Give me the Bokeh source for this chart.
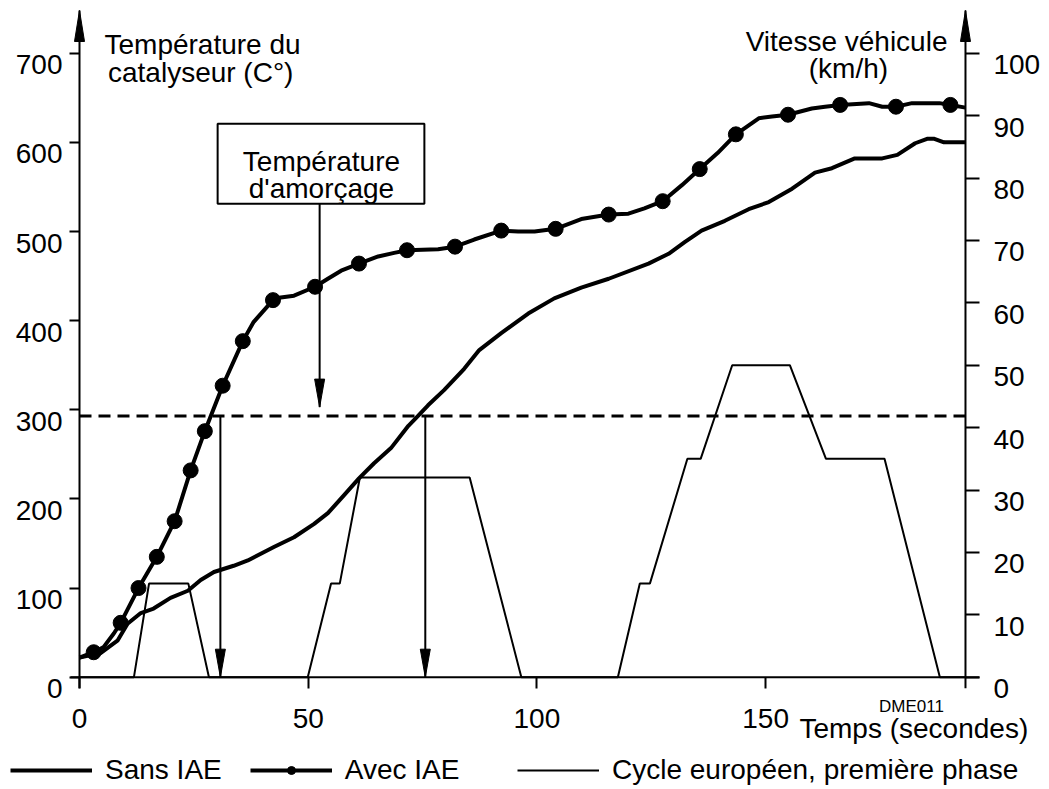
from bokeh.plotting import figure
from bokeh.models import (Range1d, LinearAxis, FixedTicker, Label, LabelSet,
                          BoxAnnotation, Legend, LegendItem, ColumnDataSource, Grid,
                          CustomJSTickFormatter)
from bokeh.core.properties import value
from bokeh.embed import file_html
from bokeh.resources import INLINE

FONT = "Liberation Sans"

# ---------------- data ----------------
time_sans = [0, 4.6, 8.3, 10.5, 13.4, 16.2, 19.9, 23.7, 26.5, 29.4, 33.7, 36.8, 42.5,
             46.9, 51.3, 54.3, 57.8, 61.1, 64.4, 68.1, 71.9, 73.6, 76.2, 79.7, 84.1,
             87.4, 92.2, 98.1, 103.8, 109.7, 115.7, 124.4, 128.8, 132.3, 136.0, 141.1,
             146.3, 150.7, 155.8, 160.8, 164.5, 169.5, 175.5, 178.8, 182.7, 185.3,
             186.9, 189.0, 193.7]
temp_sans = [22, 27, 41, 60, 72, 77, 89, 97, 109, 118, 125, 131, 146,
             157, 172, 184, 204, 223, 240, 257, 282, 291, 305, 322, 346,
             367, 386, 408, 425, 437, 447, 464, 475, 488, 501, 512,
             525, 533, 548, 566, 571, 582, 582, 586, 599, 604,
             604, 600, 600]

time_avec = [0, 3.1, 5.3, 7.5, 9.0, 12.9, 16.9, 20.8, 24.3, 27.4, 31.3, 35.7, 38.0,
             42.3, 44.0, 46.9, 51.5, 54.3, 57.2, 61.1, 65.3, 68.8, 71.6, 78.4, 82.1,
             86.3, 92.2, 95.9, 99.5, 104.1, 109.7, 115.7, 120.0, 123.5, 127.5, 131.7,
             135.6, 139.5, 143.5, 148.5, 151.4, 154.9, 160.1, 163.0, 166.3, 172.6,
             175.5, 178.5, 182.0, 188.0, 190.4, 193.7]
temp_avec = [22, 28, 34, 49, 61, 100, 135, 175, 232, 276, 327, 377, 398,
             423, 426, 428, 438, 447, 456, 464, 472, 476, 479, 480, 483,
             491, 501, 500, 500, 503, 514, 519, 520, 526, 534, 552,
             570, 588, 609, 627, 629, 631, 638, 640, 642, 644,
             640, 640, 644, 644, 642, 639]

time_markers = [3.1, 9.0, 12.9, 16.9, 20.8, 24.3, 27.4, 31.3, 35.7, 42.3, 51.5, 61.1,
                71.6, 82.1, 92.2, 104.1, 115.7, 127.5, 135.6, 143.5, 154.9, 166.3,
                178.5, 190.4]
temp_markers = [28, 61, 100, 135, 175, 232, 276, 327, 377, 423, 438, 464,
                479, 483, 501, 503, 519, 534, 570, 609, 631, 642,
                640, 642]

time_cycle = [0, 11.9, 15.2, 23.8, 28.3, 49.9, 55.0, 56.9, 61.3, 85.3, 96.6, 117.7,
              122.5, 124.7, 132.9, 135.8, 142.7, 155.3, 163.2, 176.0, 188.1, 193.7]
speed_cycle = [0, 0, 15, 15, 0, 0, 15, 15, 32, 32, 0, 0,
               15, 15, 35, 35, 50, 50, 35, 35, 0, 0]

temp_ticks = [0, 100, 200, 300, 400, 500, 600, 700]
speed_ticks = [0, 10, 20, 30, 40, 50, 60, 70, 80, 90, 100]
time_ticks = [0, 50, 100, 150]

threshold_temp = 293          # température d'amorçage
arrow_times = [30.8, 75.6]    # instants d'amorçage
box_arrow_time = 52.5
T_END = 193.7                 # position of the right axis

# ---------------- layout constants ----------------
W, H = 1049, 789
PX_PER_S = 4.574              # px per second
PX_PER_DEG = 0.8914           # px per degree
DEG_PER_KMH = 7.0
ORIGIN_X = 79                 # canvas px of t = 0
ORIGIN_Y = 676.7              # canvas px of T = 0 (from top)
X_START, X_END = -ORIGIN_X / PX_PER_S, (W - ORIGIN_X) / PX_PER_S
Y_START, Y_END = (ORIGIN_Y - H) / PX_PER_DEG, ORIGIN_Y / PX_PER_DEG
AX_TOP = (ORIGIN_Y - 10) / PX_PER_DEG      # tip of the axis arrows
AX_BOTTOM = -11 / PX_PER_DEG               # axes overshoot below 0
AX_LEFT, AX_RIGHT = -9 / PX_PER_S, T_END + 14 / PX_PER_S
FS = "28px"

p = figure(width=W, height=H, output_backend="svg", toolbar_location=None,
           x_range=Range1d(X_START, X_END), y_range=Range1d(Y_START, Y_END),
           x_axis_location=None, y_axis_location=None,
           min_border=0, min_border_left=0, min_border_right=0,
           min_border_top=0, min_border_bottom=0)
p.outline_line_color = None
p.background_fill_color = "white"
p.border_fill_color = "white"
p.center = [r for r in p.center if not isinstance(r, Grid)]
p.extra_y_ranges = {"speed": Range1d(Y_START / DEG_PER_KMH, Y_END / DEG_PER_KMH)}


def style_axis(ax, ticks, tick_out):
    ax.ticker = FixedTicker(ticks=ticks)
    ax.formatter = CustomJSTickFormatter(code="return ''")
    ax.axis_line_color = None
    ax.major_tick_line_width = 2
    ax.major_tick_line_color = "black"
    ax.major_tick_in = 0
    ax.major_tick_out = tick_out
    ax.minor_tick_in = 0
    ax.minor_tick_out = 0


ax_b = LinearAxis(fixed_location=0)
style_axis(ax_b, time_ticks, 11)
p.add_layout(ax_b, "below")

ax_l = LinearAxis(fixed_location=0)
style_axis(ax_l, temp_ticks, 10)
p.add_layout(ax_l, "left")

ax_r = LinearAxis(fixed_location=T_END, y_range_name="speed")
style_axis(ax_r, speed_ticks, 14)
p.add_layout(ax_r, "right")

# axis lines (overshooting like the original drawing)
p.segment(x0=[AX_LEFT, 0, T_END], y0=[0, AX_BOTTOM, AX_BOTTOM],
          x1=[AX_RIGHT, 0, T_END], y1=[0, AX_TOP, AX_TOP],
          line_width=2, line_color="black")

# tick labels (baseline hangs 21 px below the tick, as in the drawing)
BASE_DROP = 21
label_style = dict(text_baseline="alphabetic", text_font=value(FONT),
                   text_font_size=value(FS), text_color="black")
left_src = ColumnDataSource(dict(x=[-17 / PX_PER_S] * len(temp_ticks),
                                 y=[v - BASE_DROP / PX_PER_DEG for v in temp_ticks],
                                 text=[str(v) for v in temp_ticks]))
p.add_layout(LabelSet(x="x", y="y", text="text", source=left_src, text_align="right",
                      **label_style))
right_src = ColumnDataSource(dict(x=[T_END + 28 / PX_PER_S] * len(speed_ticks),
                                  y=[v - BASE_DROP / (PX_PER_DEG * DEG_PER_KMH)
                                     for v in speed_ticks],
                                  text=[str(v) for v in speed_ticks]))
p.add_layout(LabelSet(x="x", y="y", text="text", source=right_src, y_range_name="speed",
                      text_align="left", **label_style))
bottom_src = ColumnDataSource(dict(x=time_ticks,
                                   y=[-50.3 / PX_PER_DEG] * len(time_ticks),
                                   text=[str(v) for v in time_ticks]))
p.add_layout(LabelSet(x="x", y="y", text="text", source=bottom_src, text_align="center",
                      **label_style))

# ---------------- series ----------------
cycle = p.line(time_cycle, speed_cycle, y_range_name="speed", line_width=2,
               line_color="black")
sans = p.line(time_sans, temp_sans, line_width=4, line_color="black",
              line_join="round")
avec_line = p.line(time_avec, temp_avec, line_width=4, line_color="black",
                   line_join="round")
avec_pts = p.scatter(time_markers, temp_markers, marker="circle", size=15,
                     fill_color="black", line_color="black")

# threshold line
p.segment(x0=[0], y0=[threshold_temp], x1=[T_END], y1=[threshold_temp],
          line_width=3, line_color="black", line_dash="12 7")

# vertical arrows
p.segment(x0=arrow_times, y0=[threshold_temp] * len(arrow_times),
          x1=arrow_times, y1=[0] * len(arrow_times), line_width=2, line_color="black")

BOX_LEFT, BOX_RIGHT, BOX_TOP, BOX_BOTTOM = 30.2, 75.4, 621, 531
BOX_ARROW_TIP = 303
p.segment(x0=[box_arrow_time], y0=[BOX_BOTTOM], x1=[box_arrow_time],
          y1=[BOX_ARROW_TIP], line_width=2, line_color="black")


def head(x, tip, up, length_px=28, width_px=10):
    hw = width_px / 2 / PX_PER_S
    hl = length_px / PX_PER_DEG
    base = tip - hl if up else tip + hl
    return [x - hw, x, x + hw], [base, tip, base]


heads = [head(0, AX_TOP, True, 31), head(T_END, AX_TOP, True, 31),
         head(box_arrow_time, BOX_ARROW_TIP, False)]
heads += [head(t, 0, False) for t in arrow_times]
p.patches([h[0] for h in heads], [h[1] for h in heads], fill_color="black",
          line_color="black", line_width=1)

# box
p.add_layout(BoxAnnotation(left=BOX_LEFT, right=BOX_RIGHT, top=BOX_TOP,
                           bottom=BOX_BOTTOM, fill_color="white", fill_alpha=1,
                           line_color="black", line_alpha=1, line_width=2))

LABEL_FIX = 0.32  # Label annotations sit this many em lower than their baseline


def label(x, y, text, size=28, align="center"):
    p.add_layout(Label(x=x, y=y + LABEL_FIX * size / PX_PER_DEG, text=text,
                       text_align=align, text_baseline="alphabetic", text_font=FONT,
                       text_font_size=f"{size}px", text_color="black"))


label(52.9, 568.4, "Température")
label(52.9, 538.1, "d'amorçage")
label(26.9, 699.4, "Température du")
label(26.5, 668.3, "catalyseur (C°)")
label(167.7, 703.1, "Vitesse véhicule")
label(168.1, 672.8, "(km/h)")
label(157.4, -67.6, "Temps (secondes)", align="left")
label(181.9, -38.5, "DME011", size=17)

legend_style = dict(orientation="horizontal", glyph_width=82, glyph_height=20,
                    label_standoff=13, spacing=28, padding=0, margin=0,
                    border_line_color=None, background_fill_alpha=0,
                    label_text_font=FONT, label_text_font_size=FS,
                    label_text_color="black", label_height=30)
legend_a = Legend(items=[
    LegendItem(label="Sans IAE", renderers=[sans]),
    LegendItem(label="Avec IAE", renderers=[avec_line, avec_pts]),
], location=(10, 3), **legend_style)
legend_b = Legend(items=[
    LegendItem(label="Cycle européen, première phase", renderers=[cycle]),
], location=(517, 3), **legend_style)
p.add_layout(legend_a, "center")
p.add_layout(legend_b, "center")

open("out.html", "w").write(file_html(p, INLINE))
